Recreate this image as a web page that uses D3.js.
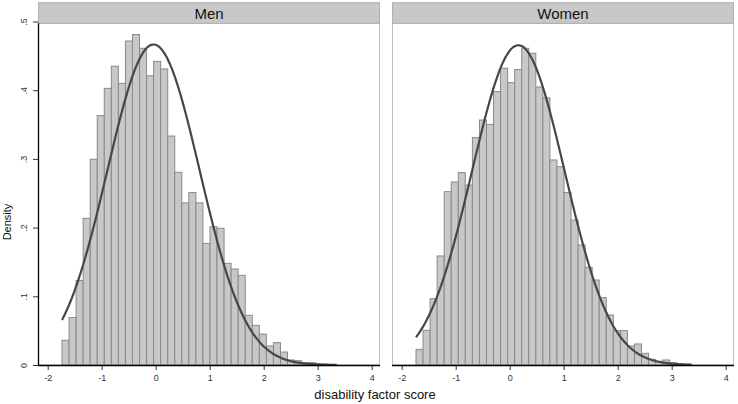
<!DOCTYPE html>
<html>
<head>
<meta charset="utf-8">
<script src="https://cdn.jsdelivr.net/npm/d3@7"></script>
<style>
  html, body { margin: 0; padding: 0; background: #fff; }
  svg { display: block; font-family: "Liberation Sans", Arial, Helvetica, sans-serif; }
</style>
</head>
<body>
<svg id="chart" width="738" height="404"></svg>
<script>
// ---- data ----
const panels = ["Men", "Women"];
const binStart = -1.735;
const binWidth = 0.1305;
const menDensity = [0.036, 0.069, 0.123, 0.2135, 0.2994, 0.363, 0.4027, 0.435, 0.410, 0.4716,
  0.481, 0.461, 0.421, 0.442, 0.431, 0.3333, 0.2805, 0.236, 0.251, 0.236,
  0.177, 0.2013, 0.199, 0.148, 0.1397, 0.1305, 0.0723, 0.0577, 0.0451, 0.0277,
  0.0325, 0.0189, 0.0073, 0.0063, 0.0034, 0.0034, 0.0015, 0.001, 0.0007];
const womenDensity = [0.0228, 0.0505, 0.0965, 0.1587, 0.2523, 0.2664, 0.280, 0.262, 0.331, 0.3566,
  0.3503, 0.398, 0.432, 0.411, 0.430, 0.461, 0.4537, 0.4047, 0.389, 0.2984,
  0.2887, 0.251, 0.211, 0.1747, 0.1422, 0.1237, 0.098, 0.0728, 0.050, 0.050,
  0.0277, 0.0306, 0.017, 0.0083, 0.0054, 0.0073, 0.0034, 0.0015, 0.001];
const normalMean = [-0.04, 0.16];
const normalSD = [0.855, 0.857];
const curveMax = [3.35, 3.37];
const xTicks = [-2, -1, 0, 1, 2, 3, 4];
const yTicks = [0, 0.1, 0.2, 0.3, 0.4, 0.5];
const yTickLabels = ["0", ".1", ".2", ".3", ".4", ".5"];
const xTitle = "disability factor score";
const yTitle = "Density";

// ---- layout ----
const svg = d3.select("#chart");
const panelBoxes = [
  { left: 38, right: 380, x0: 47.7, x1: 371.7 },
  { left: 392, right: 734, x0: 401.7, x1: 725.7 }
];
const stripTop = 2.7, plotTop = 23.3, baseY = 365;
const y = d3.scaleLinear().domain([0, 0.5]).range([baseY, 21.5]);
const densities = [menDensity, womenDensity];

panels.forEach((name, p) => {
  const box = panelBoxes[p];
  const x = d3.scaleLinear().domain([-2, 4]).range([box.x0, box.x1]);
  const g = svg.append("g");

  // panel frame
  g.append("rect")
    .attr("x", box.left + 0.5).attr("y", plotTop)
    .attr("width", box.right - box.left - 1).attr("height", baseY - plotTop)
    .attr("fill", "#fff").attr("stroke", "#bdbdbd").attr("stroke-width", 1);

  // strip
  g.append("rect")
    .attr("x", box.left + 0.5).attr("y", stripTop)
    .attr("width", box.right - box.left - 1).attr("height", plotTop - stripTop)
    .attr("fill", "#c8c8c8").attr("stroke", "#b0b0b0").attr("stroke-width", 1);
  g.append("text")
    .attr("x", (box.left + box.right) / 2).attr("y", 13)
    .attr("text-anchor", "middle").attr("dominant-baseline", "central")
    .attr("font-size", 15).attr("fill", "#111").text(name);

  // bars
  const vals = densities[p];
  g.selectAll("rect.bar").data(vals).enter().append("rect")
    .attr("class", "bar")
    .attr("x", (d, i) => x(binStart + i * binWidth))
    .attr("width", (d, i) => x(binStart + (i + 1) * binWidth) - x(binStart + i * binWidth))
    .attr("y", d => y(d))
    .attr("height", d => baseY - y(d))
    .attr("fill", "#c8c8c8").attr("stroke", "#8a8a8a").attr("stroke-width", 1);

  // normal curve
  const m = normalMean[p], s = normalSD[p];
  const pts = d3.range(0, 201).map(k => {
    const xv = binStart + (curveMax[p] - binStart) * k / 200;
    return [xv, Math.exp(-0.5 * ((xv - m) / s) ** 2) / (s * Math.sqrt(2 * Math.PI))];
  });
  g.append("path").datum(pts)
    .attr("d", d3.line().x(d => x(d[0])).y(d => y(d[1])).curve(d3.curveBasis))
    .attr("fill", "none").attr("stroke", "#474747").attr("stroke-width", 2.2);

  // x axis
  const xa = g.append("g").attr("transform", `translate(0,${baseY})`)
    .call(d3.axisBottom(x).tickValues(xTicks).tickSize(5).tickFormat(d => String(d)));
  xa.select(".domain").remove();
  xa.selectAll(".tick line").attr("stroke", "#333");
  xa.selectAll(".tick text").attr("font-size", 9).attr("fill", "#333")
    .attr("font-family", "'Liberation Sans', Arial, sans-serif").attr("dy", "0.9em");
  g.append("line").attr("x1", box.left).attr("x2", box.right)
    .attr("y1", baseY + 0.5).attr("y2", baseY + 0.5)
    .attr("stroke", "#000").attr("stroke-width", 1.3);

  if (p === 0) {
    const ya = g.append("g").attr("transform", `translate(${box.left},0)`)
      .call(d3.axisLeft(y).tickValues(yTicks).tickSize(5).tickFormat((d, i) => yTickLabels[i]));
    ya.select(".domain").remove();
    ya.selectAll(".tick line").attr("stroke", "#333");
    ya.selectAll(".tick text").attr("font-size", 9).attr("fill", "#333")
      .attr("font-family", "'Liberation Sans', Arial, sans-serif")
      .attr("text-anchor", "middle").attr("dy", 0).attr("x", 0)
      .attr("transform", "translate(-14,0) rotate(-90)")
      .attr("dominant-baseline", "central");
    g.append("line").attr("x1", box.left + 0.5).attr("x2", box.left + 0.5)
      .attr("y1", plotTop).attr("y2", baseY + 1)
      .attr("stroke", "#000").attr("stroke-width", 1.3);
  }
});

svg.append("text").attr("x", 375).attr("y", 394)
  .attr("text-anchor", "middle").attr("dominant-baseline", "central")
  .attr("font-size", 13).attr("fill", "#111").text(xTitle);
svg.append("text")
  .attr("transform", "translate(7,222) rotate(-90)")
  .attr("text-anchor", "middle").attr("dominant-baseline", "central")
  .attr("font-size", 11).attr("fill", "#111").text(yTitle);
</script>
</body>
</html>
